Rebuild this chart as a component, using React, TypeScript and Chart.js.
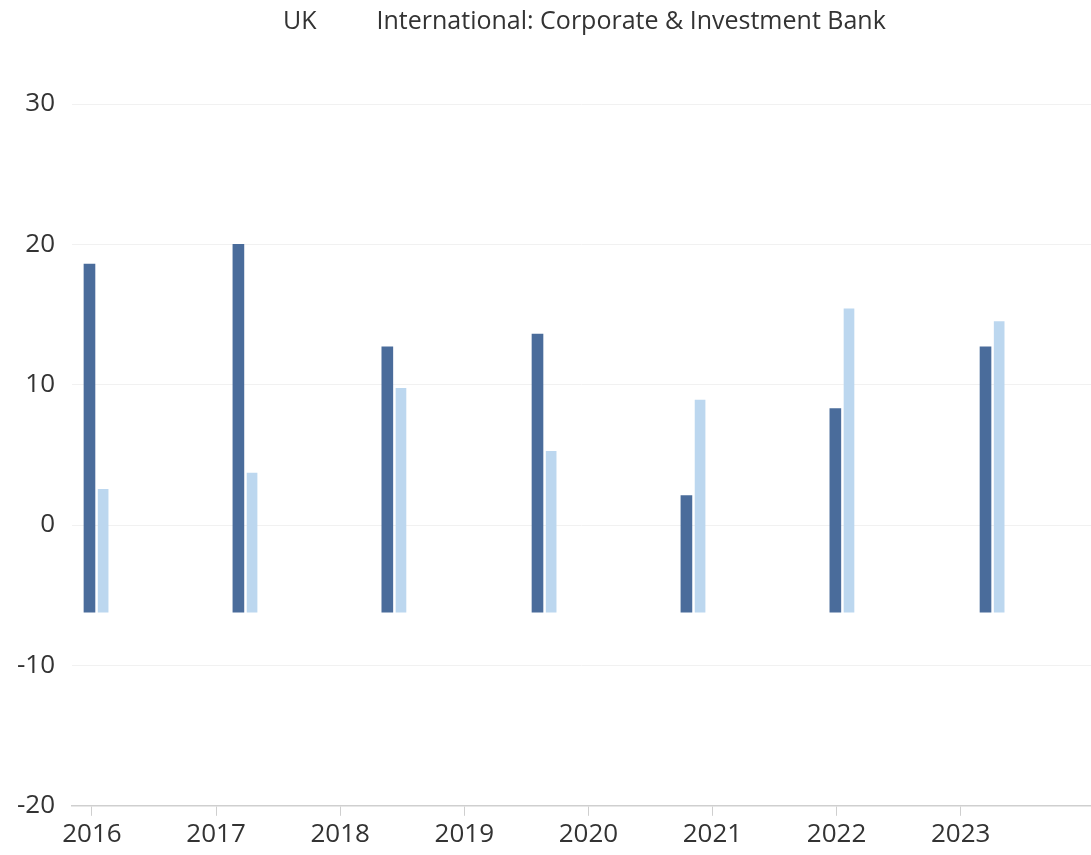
import { useEffect, useRef } from 'react';
import { Chart, ChartConfiguration, registerables } from 'chart.js';

Chart.register(...registerables);

const seriesNames = ['UK', 'International: Corporate & Investment Bank'];
const seriesColors = ['#4a6c9b', '#bcd7ef'];
const yearTicks = [2016, 2017, 2018, 2019, 2020, 2021, 2022, 2023];
// bar positions on the year axis
const ukPositions = [2015.98, 2017.18, 2018.38, 2019.59, 2020.79, 2021.99, 2023.2];
const intlPositions = [2016.09, 2017.29, 2018.49, 2019.7, 2020.9, 2022.1, 2023.31];
const barBase = -6.2;
const ukValues = [18.6, 20.0, 12.7, 13.6, 2.1, 8.3, 12.7];
const intlValues = [2.55, 3.7, 9.75, 5.25, 8.9, 15.4, 14.5];

const FONT = '"Open Sans", "Noto Sans", sans-serif';

export default function App() {
  const canvasRef = useRef<HTMLCanvasElement>(null);
  const chartRef = useRef<Chart | null>(null);

  useEffect(() => {
    document.body.style.margin = '0';
    if (!canvasRef.current) return;
    if (chartRef.current) chartRef.current.destroy();

    const config: ChartConfiguration = {
      type: 'bar',
      data: {
        datasets: [
          {
            label: seriesNames[0],
            data: ukPositions.map((x, i) => ({ x, y: [barBase, ukValues[i]] })) as any,
            backgroundColor: seriesColors[0],
            barThickness: 11,
            grouped: false,
          },
          {
            label: seriesNames[1],
            data: intlPositions.map((x, i) => ({ x, y: [barBase, intlValues[i]] })) as any,
            backgroundColor: seriesColors[1],
            barThickness: 10,
            grouped: false,
          },
        ],
      },
      options: {
        animation: false,
        responsive: false,
        maintainAspectRatio: false,
        layout: { padding: { top: 104, right: 0, bottom: 2, left: 0 } },
        plugins: {
          tooltip: { enabled: false },
          legend: { display: false },
        },
        scales: {
          x: {
            type: 'linear',
            offset: false,
            min: 2015.84,
            max: 2024.05,
            afterBuildTicks: (axis: any) => {
              axis.ticks = yearTicks.map((v) => ({ value: v }));
            },
            ticks: {
              color: '#333',
              font: { family: FONT, size: 26 },
              padding: 3,
              maxRotation: 0,
              autoSkip: false,
              callback: (v: any) => String(v),
            },
            grid: {
              offset: false,
              drawOnChartArea: false,
              drawTicks: true,
              tickLength: 10,
              color: '#cfcfcf',
            },
            border: { display: true, color: '#cfcfcf', width: 1.5 },
          },
          y: {
            min: -20,
            max: 30,
            ticks: {
              stepSize: 10,
              color: '#333',
              font: { family: FONT, size: 26 },
              padding: 17,
            },
            grid: { color: '#f1f1f1', drawTicks: false },
            border: { display: false },
          },
        },
      },
    };

    chartRef.current = new Chart(canvasRef.current, config);
    return () => {
      if (chartRef.current) chartRef.current.destroy();
      chartRef.current = null;
    };
  }, []);

  return (
    <div style={{ position: 'relative', width: 1091, height: 855, background: '#fff' }}>
      <div
        style={{
          position: 'absolute',
          left: 283,
          top: 2,
          display: 'flex',
          gap: 60,
          fontFamily: FONT,
          fontSize: 25,
          color: '#333',
          whiteSpace: 'nowrap',
        }}
      >
        {seriesNames.map((name) => (
          <span key={name}>{name}</span>
        ))}
      </div>
      <canvas ref={canvasRef} width={1091} height={855} style={{ display: 'block' }} />
    </div>
  );
}
